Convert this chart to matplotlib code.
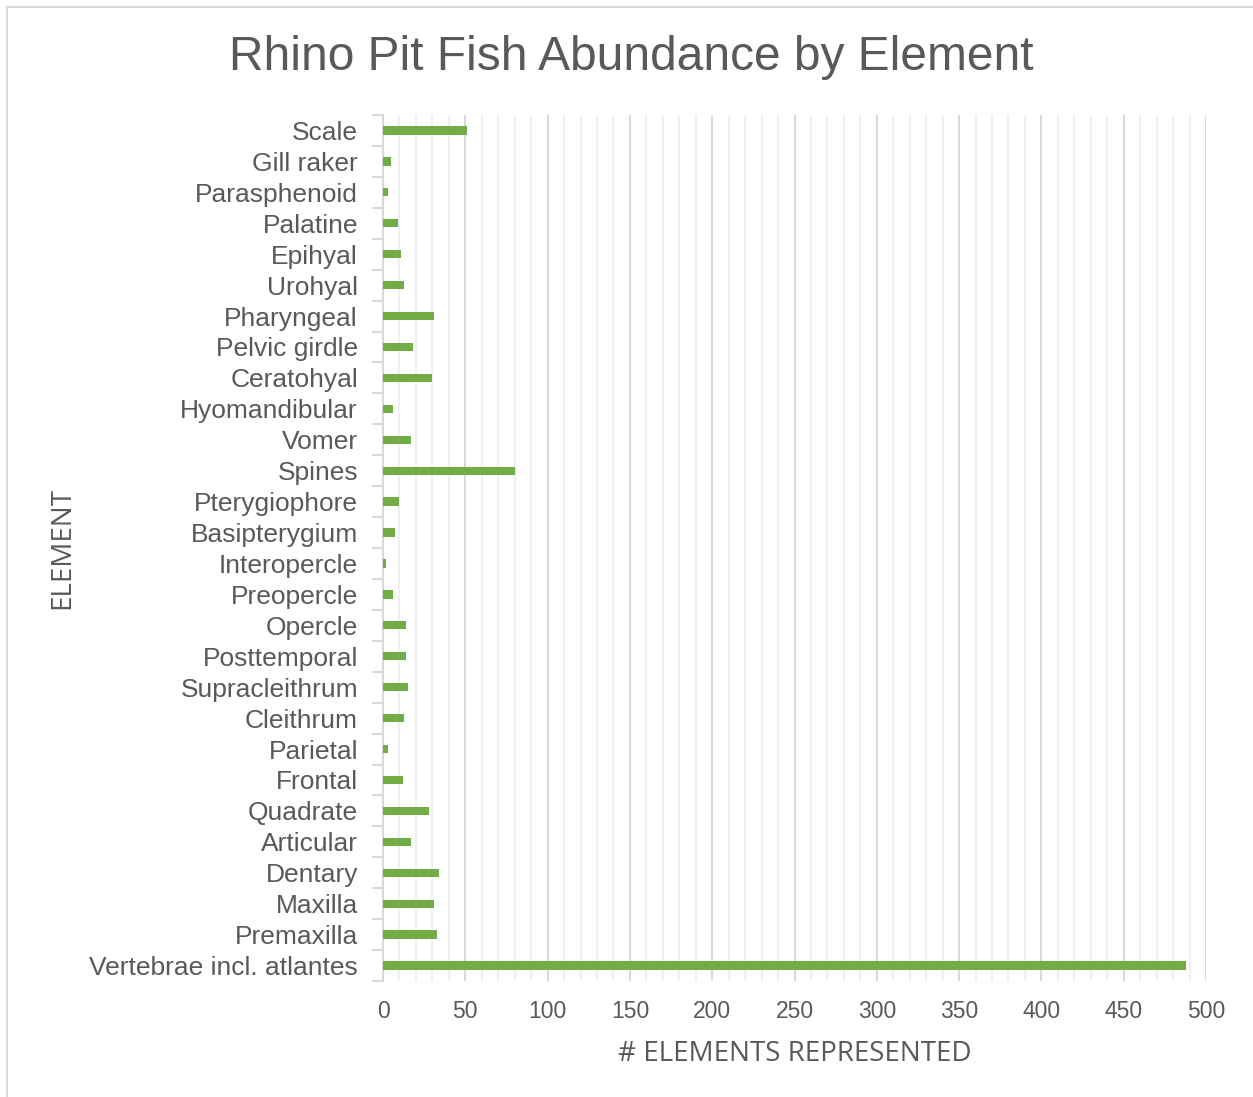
import matplotlib
matplotlib.use("Agg")
import matplotlib.pyplot as plt
from matplotlib.lines import Line2D
from matplotlib.ticker import MultipleLocator

categories = ["Scale", "Gill raker", "Parasphenoid", "Palatine", "Epihyal", "Urohyal",
              "Pharyngeal", "Pelvic girdle", "Ceratohyal", "Hyomandibular", "Vomer",
              "Spines", "Pterygiophore", "Basipterygium", "Interopercle", "Preopercle",
              "Opercle", "Posttemporal", "Supracleithrum", "Cleithrum", "Parietal",
              "Frontal", "Quadrate", "Articular", "Dentary", "Maxilla", "Premaxilla",
              "Vertebrae incl. atlantes"]
counts = [51, 5, 3, 9, 11, 13, 31, 18, 30, 6, 17, 80, 10, 7, 2, 6, 14, 14, 15, 13,
          3, 12, 28, 17, 34, 31, 33, 488]
xticks = [0, 50, 100, 150, 200, 250, 300, 350, 400, 450, 500]

W, H = 1253, 1097
fig = plt.figure(figsize=(W / 100, H / 100), dpi=100)
ax = fig.add_axes([383 / W, 1 - 981 / H, (1206 - 383) / W, (981 - 115) / H])

text_col = "#595959"
n = len(categories)
ypos = list(range(n))[::-1]
ax.barh(ypos, counts, height=0.27, color="#70ad47", zorder=3)
ax.set_ylim(-0.5, n - 0.5)
ax.set_xlim(0, 500)
ax.set_yticks(ypos)
ax.set_yticklabels(categories, fontsize=19, color=text_col, family="Liberation Sans")
ax.set_xticks(xticks)
ax.set_xticklabels([str(v) for v in xticks], fontsize=16.5, color=text_col, family="Liberation Sans")
ax.xaxis.set_minor_locator(MultipleLocator(10))
ax.grid(axis="x", which="major", color="#d9d9d9", linewidth=1.5, zorder=0)
ax.grid(axis="x", which="minor", color="#f0f0f0", linewidth=1.5, zorder=0)
for s in ["top", "right", "bottom"]:
    ax.spines[s].set_visible(False)
ax.spines["left"].set_color("#d9d9d9")
ax.spines["left"].set_linewidth(1.5)
ax.tick_params(axis="y", which="major", length=0, pad=18)
ax.tick_params(axis="x", which="both", length=0, pad=14)
ax.set_yticks([i - 0.5 for i in range(n + 1)], minor=True)
ax.tick_params(axis="y", which="minor", length=8, width=1.5, color="#d9d9d9")

ax.set_xlabel("# ELEMENTS REPRESENTED", fontsize=20, color=text_col, family="Open Sans", labelpad=12)
fig.text(62 / W, 1 - 548 / H, "ELEMENT", rotation=90, fontsize=20, color=text_col,
         family="Open Sans", ha="center", va="center")
fig.text(631 / W, 1 - 58 / H, "Rhino Pit Fish Abundance by Element", fontsize=34.5,
         color=text_col, family="Liberation Sans", ha="center", va="center")

fig.add_artist(Line2D([7 / W, 7 / W], [0, 1 - 7 / H], transform=fig.transFigure, color="#d9d9d9", lw=1.5))
fig.add_artist(Line2D([7 / W, 1], [1 - 7 / H, 1 - 7 / H], transform=fig.transFigure, color="#d9d9d9", lw=1.5))

fig.savefig("out.png", dpi=100)
